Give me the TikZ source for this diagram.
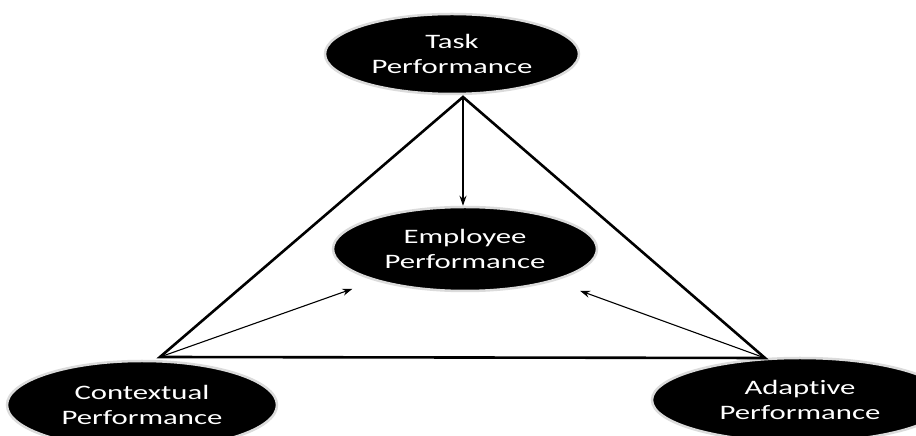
\documentclass[tikz,border=0pt]{standalone}
\usepackage{fontspec}
\newfontfamily\calib[FakeStretch=1.5,Ligatures=NoCommon]{Carlito}
\usetikzlibrary{shapes,arrows.meta,calc}

\begin{document}
\begin{tikzpicture}[x=1pt,y=1pt]
    \tikzstyle{side}  = [line width=2.6pt,line join=miter,draw=black]
    \tikzstyle{dedge} = [line width=1.1pt,-{Stealth[length=10pt,width=7pt]},draw=black]
    \tikzstyle{factor}=[
      ellipse,
      draw=black!14,
      fill=black,
      line width=2.5pt,
      inner sep=0pt,
      text=white,
      align=center,
      font=\calib\fontsize{20.5}{25}\selectfont,
      minimum height=80pt
    ]

    \useasboundingbox (0,0) rectangle (916,436);
    \clip (0,0) rectangle (916,436);

    \node[factor,minimum width=254pt] (task) at (452,382) {Task\\Performance};
    \node[factor,minimum width=264pt,minimum height=84pt] (employee) at (465,187) {Employee\\Performance};
    \node[factor,minimum width=270pt,minimum height=88pt] (contextual) at (142,31) {Contextual\\Performance};
    \node[factor,minimum width=296pt,minimum height=84pt] (adaptive) at (800,36) {Adaptive\\Performance};

    \coordinate (apex)  at (463,339);
    \coordinate (left)  at (160,79);
    \coordinate (right) at (765,78);

    \draw[side] (apex)--(left)--(right)--cycle;

    \draw[dedge] (apex)--(apex |- employee.north);
    \draw[dedge,shorten >=24pt] (left)--(employee);
    \draw[dedge,shorten >=28pt] (right)--(employee);
\end{tikzpicture}
\end{document}
